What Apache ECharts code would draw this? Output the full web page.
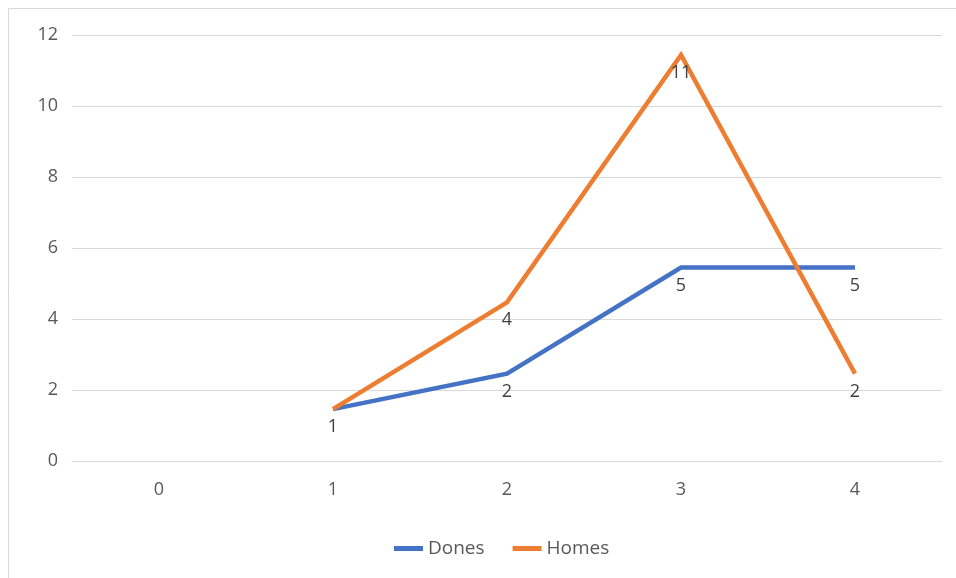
<!DOCTYPE html>
<html>
<head>
<meta charset="utf-8">
<style>html,body{margin:0;padding:0;background:#fff;}#main{width:956px;height:578px;}</style>
<script src="https://cdn.jsdelivr.net/npm/echarts@6/dist/echarts.min.js"></script>
</head>
<body>
<div id="main"></div>
<script>
const categories = ['0', '1', '2', '3', '4'];
const dones = ['-', 1.46, 2.46, 5.45, 5.45];
const homes = ['-', 1.46, 4.47, 11.44, 2.46];
const homesLabelHidden = [1];
const yTicks = { min: 0, max: 12, interval: 2 };

const font = 'Open Sans, Liberation Sans, sans-serif';
const chart = echarts.init(document.getElementById('main'));
const labelCfg = {
  show: true, position: 'bottom', distance: 9,
  color: '#404040', fontSize: 18, fontFamily: font, fontWeight: 500,
  formatter: p => String(Math.floor(p.value))
};
chart.setOption({
  animation: false,
  graphic: [{ type: 'rect', shape: { x: 8.5, y: 8.5, width: 1200, height: 1200 }, style: { fill: 'none', stroke: '#d9d9d9', lineWidth: 1 }, silent: true }],
  grid: { left: 72, right: 14, top: 35, bottom: 117, containLabel: false },
  legend: {
    top: 534, left: 389, itemWidth: 29, itemHeight: 5, itemGap: 28,
    icon: 'rect',
    textStyle: { color: '#595959', fontSize: 19, fontFamily: font, padding: [0, 0, 0, 0] },
    data: ['Dones', 'Homes']
  },
  xAxis: {
    type: 'category', data: categories, boundaryGap: true,
    axisLine: { lineStyle: { color: '#d9d9d9', width: 1 } },
    axisTick: { show: false },
    axisLabel: { color: '#595959', fontSize: 18, fontFamily: font, fontWeight: 500, margin: 20 }
  },
  yAxis: {
    type: 'value', min: yTicks.min, max: yTicks.max, interval: yTicks.interval,
    axisLine: { show: false }, axisTick: { show: false },
    splitLine: { lineStyle: { color: '#d9d9d9', width: 1 } },
    axisLabel: { color: '#595959', fontSize: 18, fontFamily: font, fontWeight: 500, margin: 14 }
  },
  series: [
    { name: 'Dones', type: 'line', data: dones, symbol: 'circle', symbolSize: 0, showSymbol: true,
      lineStyle: { color: '#4472C4', width: 4.5, cap: 'butt', join: 'miter' }, itemStyle: { color: '#4472C4' },
      label: labelCfg, z: 2 },
    { name: 'Homes', type: 'line', symbol: 'circle', symbolSize: 0, showSymbol: true,
      data: homes.map((v, i) => homesLabelHidden.includes(i) ? { value: v, label: { show: false } } : v),
      lineStyle: { color: '#ED7D31', width: 4.5, cap: 'butt', join: 'miter' }, itemStyle: { color: '#ED7D31' },
      label: labelCfg, z: 3 }
  ]
});
</script>
</body>
</html>
